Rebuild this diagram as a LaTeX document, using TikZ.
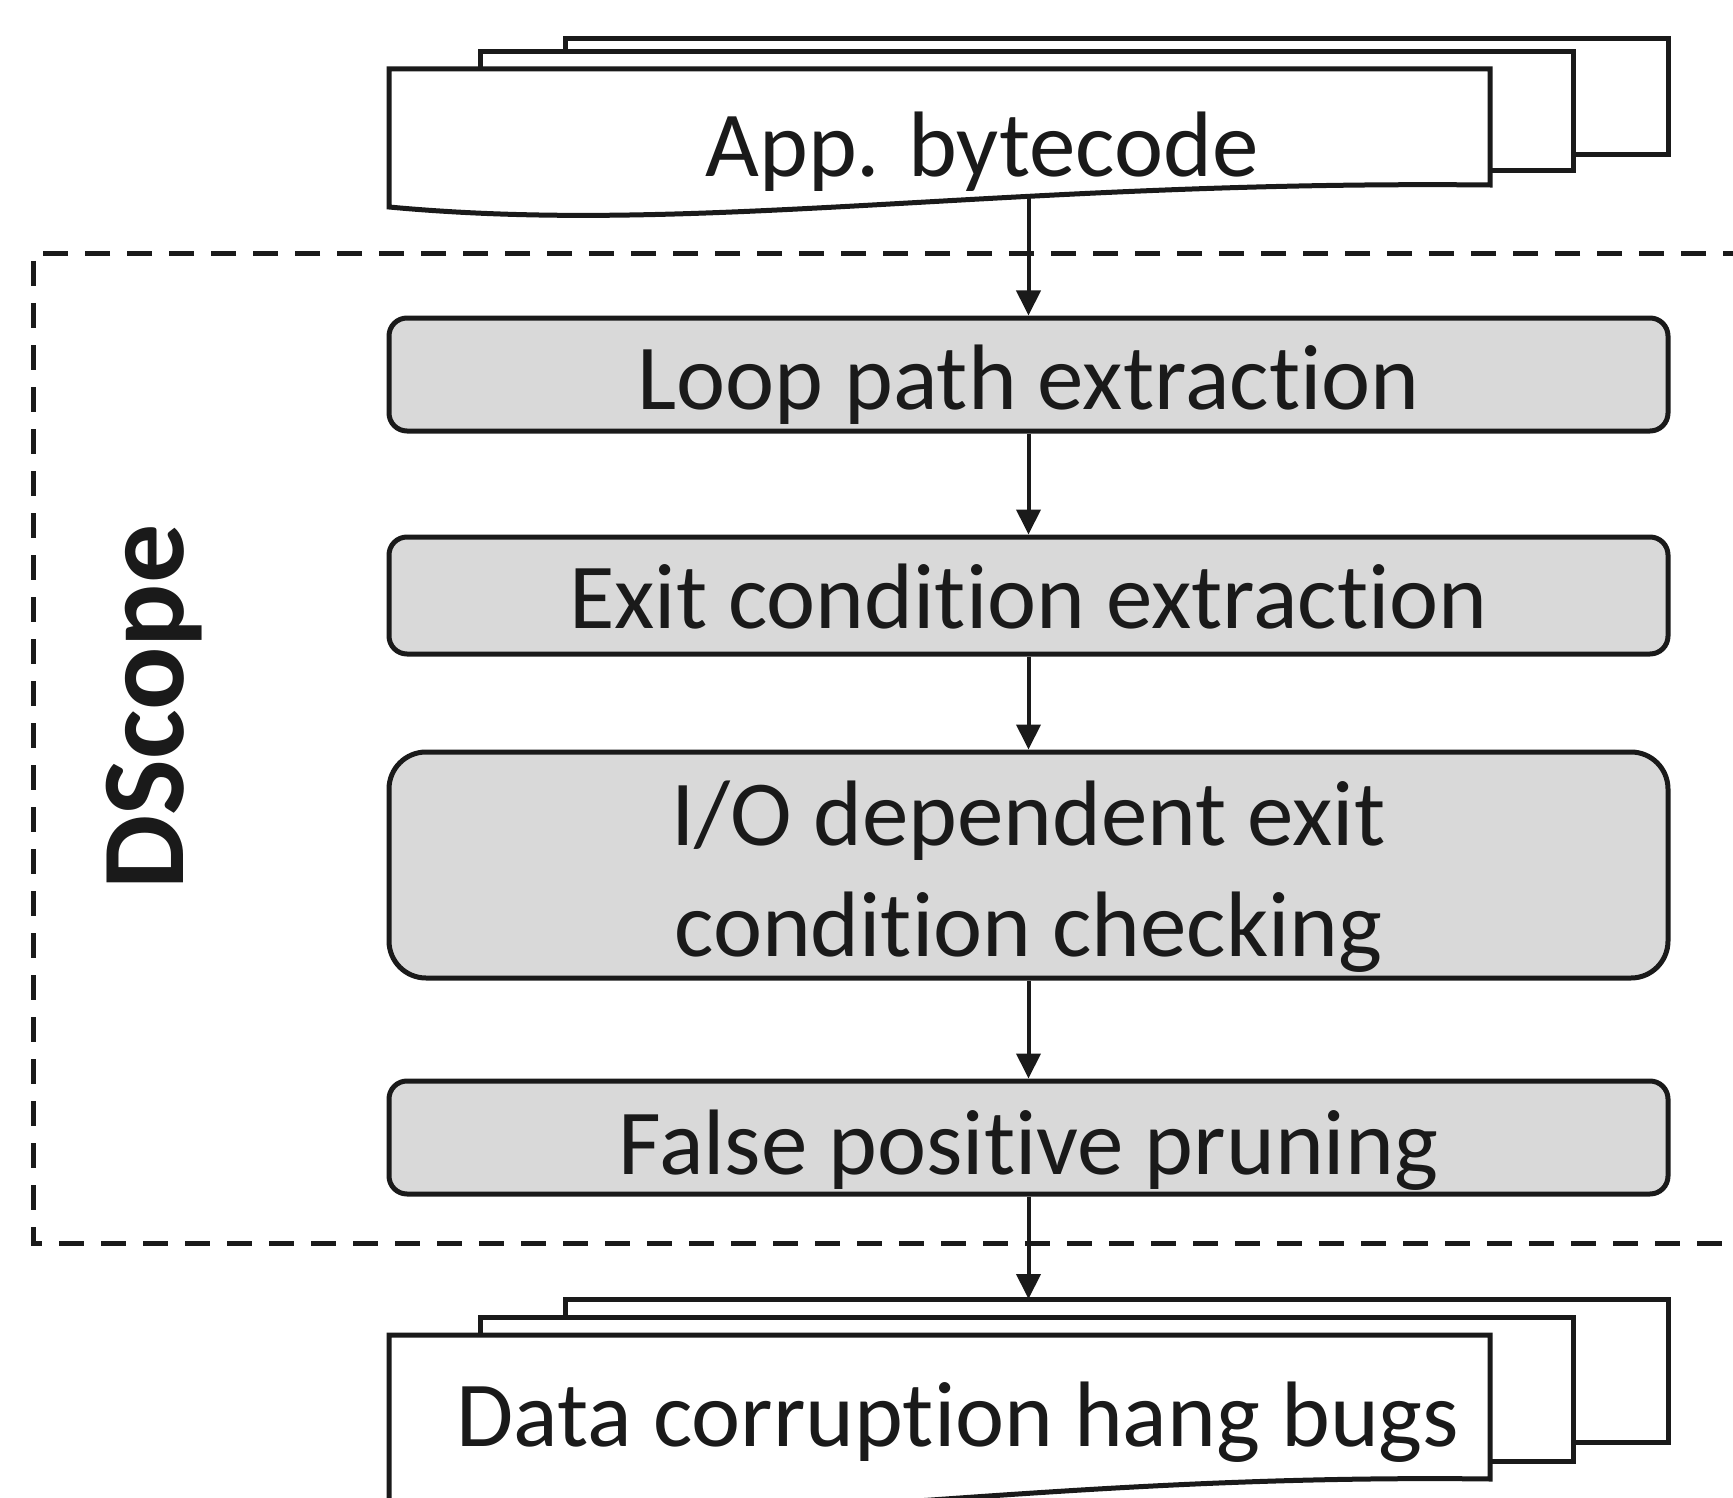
\documentclass[tikz,border=0pt]{standalone}
\usepackage{fontspec}
\setmainfont[Ligatures={NoCommon}]{Carlito}
\usetikzlibrary{arrows.meta}
\definecolor{ink}{RGB}{26,26,26}
\definecolor{stagefill}{RGB}{217,217,217}
\tikzset{
  stage/.style={draw=ink, fill=stagefill, line width=5pt, rounded corners=18pt,
    minimum width=1279pt, inner sep=0pt, text=ink,
    font=\fontsize{93}{111}\selectfont, text depth=0pt},
  sheet/.style={draw=ink, fill=white, line width=5pt, line join=miter},
  doclabel/.style={anchor=base, inner sep=0pt, text=ink, font=\fontsize{93}{111}\selectfont},
  flow/.style={draw=ink, line width=4pt, -{Triangle[length=25pt,width=24pt]}},
  scopebox/.style={draw=ink, line width=5pt, dash pattern=on 25pt off 17pt},
}
\begin{document}
\begin{tikzpicture}[x=1pt, y=-1pt]
  \useasboundingbox (0,0) rectangle (1733,1498);
  \clip (0,0) rectangle (1733,1498);

  % tool boundary
  \draw[scopebox] (1790,254) -- (33,254) -- (33,1243) -- (1790,1243);
  \node[rotate=90, anchor=base, inner sep=0pt, text=ink,
        font=\bfseries\fontsize{118}{120}\selectfont] (dscope) at (183,707) {DScope};

  % input document stack
  \draw[sheet] (565,39) rectangle (1668,155);
  \draw[sheet] (480,52) rectangle (1573,171);
  \draw[sheet] (389,69) -- (1490,69) -- (1490,185)
    .. controls (1000,180) and (700,236) .. (389,207) -- cycle;
  \node[doclabel] (app) at (982,177) {App. bytecode};
  \coordinate (appfoot) at (1028.5,196);

  % analysis stages
  \node[stage, minimum height=113pt, text height=69pt] (loop) at (1028.5,374.5) {Loop path extraction};
  \node[stage, minimum height=117pt, text height=66pt] (exit) at (1028.5,595.5) {Exit condition extraction};
  \node[stage, minimum height=226pt, rounded corners=37pt, align=center,
        text height=182pt] (io) at (1028.5,865)
        {I/O dependent exit\\condition checking};
  \node[stage, minimum height=113pt, text height=73pt] (prune) at (1028.5,1137.5) {False positive pruning};

  % output document stack
  \draw[sheet] (565,1299) rectangle (1668,1442);
  \draw[sheet] (480,1317) rectangle (1573,1461);
  \draw[sheet] (389,1335) -- (1490,1335) -- (1490,1479)
    .. controls (1000,1473) and (700,1543) .. (389,1506) -- cycle;
  \node[doclabel] (bugs) at (958,1446) {Data corruption hang bugs};
  \coordinate (bugstop) at (1028.5,1299);

  % data flow
  \draw[flow] (appfoot) -- (loop.north);
  \draw[flow] (loop.south) -- (exit.north);
  \draw[flow] (exit.south) -- (io.north);
  \draw[flow] (io.south) -- (prune.north);
  \draw[flow] (prune.south) -- (bugstop);
\end{tikzpicture}
\end{document}
